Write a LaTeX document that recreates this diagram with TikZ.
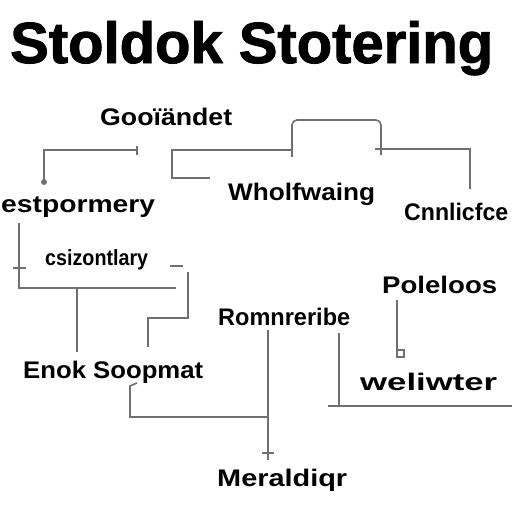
\documentclass[tikz,border=0pt]{standalone}
\usepackage{fontspec}
\setmainfont{Liberation Sans}
\newfontfamily\titlefont{Liberation Sans}[BoldFeatures={FakeBold=1.6}]
\usepackage{graphicx}
\definecolor{ln}{RGB}{112,112,112}
\newcommand\fitw[2]{\resizebox{#1}{\height}{#2}}
\tikzset{
  lab/.style={inner sep=0pt, anchor=base west, font=\bfseries\fontsize{24}{24}\selectfont},
  conn/.style={draw=ln, line width=1.6pt},
  tick/.style={draw=ln, line width=2.2pt}
}
\begin{document}
\begin{tikzpicture}[x=1pt,y=-1pt]
\useasboundingbox[fill=white] (0,0) rectangle (512,512);
\node[inner sep=0pt, anchor=base west, font=\titlefont\bfseries\fontsize{58}{58}\selectfont] (title) at (10,63) {\fitw{483pt}{Stoldok Stotering}};

\node[lab] (g)  at (100,125) {\fitw{132pt}{Gooïändet}};
\node[lab] (e)  at (1,212)   {\fitw{154pt}{estpormery}};
\node[lab, font=\bfseries\fontsize{22}{22}\selectfont] (cs) at (45,265) {\fitw{103pt}{csizontlary}};
\node[lab] (w)  at (228,200) {\fitw{147pt}{Wholfwaing}};
\node[lab] (c)  at (404,220) {\fitw{104pt}{Cnnlicfce}};
\node[lab] (p)  at (382,293) {\fitw{115pt}{Poleloos}};
\node[lab] (r)  at (218,325) {\fitw{132pt}{Romnreribe}};
\node[lab] (s)  at (23,378)  {\fitw{180pt}{Enok Soopmat}};
\node[lab] (wl) at (360,390) {\fitw{137pt}{weliwter}};
\node[lab] (m)  at (217,486) {\fitw{130pt}{Meraldiqr}};

% coordinates
\coordinate (a1) at (137,150);
\coordinate (a2) at (44,150);
\coordinate (a3) at (44,182);
\coordinate (b1) at (210,178);
\coordinate (b2) at (172,178);
\coordinate (b3) at (172,150);
\coordinate (b4) at (292,150);
\coordinate (b5) at (292,120);
\coordinate (b6) at (381,120);
\coordinate (b7) at (381,155);
\coordinate (b8) at (375,149);
\coordinate (b9) at (470,149);
\coordinate (b10) at (470,189);
\coordinate (d1) at (19,223);
\coordinate (d2) at (19,288);
\coordinate (d3) at (176,288);
\coordinate (d4) at (77,288);
\coordinate (d5) at (77,352);
\coordinate (f1) at (188,272);
\coordinate (f2) at (188,318);
\coordinate (f3) at (148,318);
\coordinate (f4) at (148,347);
\coordinate (h1) at (137,383);
\coordinate (h2) at (130,386);
\coordinate (h3) at (130,417);
\coordinate (h4) at (268,417);
\coordinate (k1) at (268,330);
\coordinate (k2) at (268,460);
\coordinate (q1) at (339,333);
\coordinate (q2) at (339,406);
\coordinate (q3) at (328,406);
\coordinate (q4) at (512,406);
\coordinate (v1) at (397,300);
\coordinate (v2) at (397,357);

\draw[conn] (a1) -- (a2) -- (a3);
\fill[ln] (a3) circle (3pt);
\draw[tick] (137,146) -- (137,155);

\draw[conn] (b1) -- (b2) -- (b3) -- (b4);
\draw[conn, rounded corners=5pt] (b4) -- (b5) -- (b6) -- (b7);
\draw[tick] (292,143) -- (292,157);
\draw[conn] (b8) -- (b9) -- (b10);

\draw[conn] (d1) -- (d2) -- (d3);
\draw[tick] (13,268) -- (26,268);
\draw[conn] (d4) -- (d5);

\draw[conn] (170,266) -- (183,266);
\draw[conn] (f1) -- (f2) -- (f3) -- (f4);

\draw[conn] (h1) -- (h2) -- (h3) -- (h4);
\draw[conn] (k1) -- (k2);
\draw[tick] (262,453) -- (274,453);

\draw[conn] (q1) -- (q2);
\draw[conn] (q3) -- (q4);

\draw[conn] (v1) -- (v2);
\draw[draw=ln, line width=1.2pt] (397,350) rectangle (404,357);
\end{tikzpicture}
\end{document}
